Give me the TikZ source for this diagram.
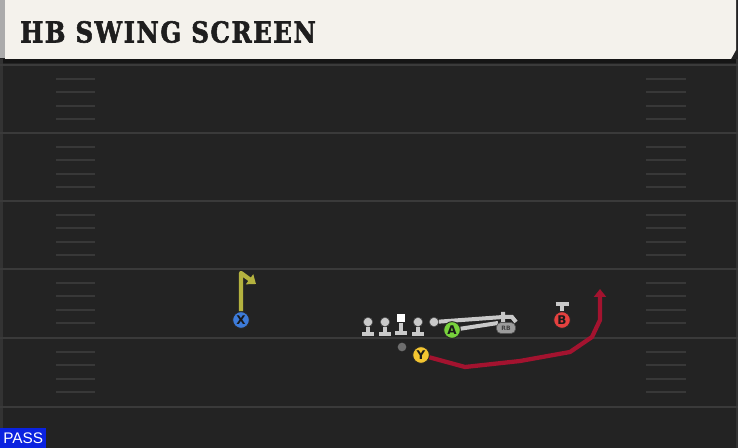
\documentclass[tikz,border=0pt]{standalone}
\usepackage{fontspec}
\setmainfont{DejaVu Serif}
\setsansfont{DejaVu Sans}
\newfontfamily\passfont{Liberation Sans}
\newfontfamily\titlefont{DejaVu Serif}[FakeBold=2, LetterSpace=6]
\usetikzlibrary{arrows.meta}

\definecolor{fieldbg}{HTML}{232323}
\definecolor{yardgray}{HTML}{3A3A3A}
\definecolor{hashgray}{HTML}{383838}
\definecolor{headerbg}{HTML}{F4F2EC}
\definecolor{headeredge}{HTML}{ABABAB}
\definecolor{titleink}{HTML}{1E1E1E}
\definecolor{passblue}{HTML}{0A22E0}
\definecolor{xblue}{HTML}{3D7BD9}
\definecolor{agreen}{HTML}{78D23C}
\definecolor{bred}{HTML}{E5413F}
\definecolor{yyellow}{HTML}{F3C531}
\definecolor{routeolive}{HTML}{B4B23F}
\definecolor{routered}{HTML}{A3132F}
\definecolor{blockgray}{HTML}{C9C9C9}
\definecolor{qbgray}{HTML}{6E6E6E}
\definecolor{rbgray}{HTML}{9C9C9C}

\begin{document}
\begin{tikzpicture}[
      x=0.75pt, y=-0.75pt,
      yardline/.style={draw=yardgray, line width=1.5pt},
      hashline/.style={draw=hashgray, line width=1.5pt},
      player/.style={circle, draw=black!85, line width=0.7pt, minimum size=12.5pt, inner sep=0pt,
                     font=\sffamily\bfseries\fontsize{9}{9}\selectfont, text=black!90},
      lineman/.style={circle, fill=blockgray, draw=black!70, line width=0.4pt, minimum size=7pt, inner sep=0pt},
      block/.style={draw=blockgray, line width=3pt},
      route/.style={line width=3.2pt, line join=round, -{Triangle[length=6pt,width=9pt]}},
      rbtag/.style={rectangle, rounded corners=3pt, fill=rbgray, draw=black!70, line width=0.4pt,
                    minimum width=14pt, minimum height=8pt, inner sep=0pt,
                    font=\sffamily\bfseries\fontsize{4.5}{5}\selectfont, text=black!75},
      passtag/.style={fill=passblue, text=white, font=\passfont\fontsize{11.5}{12}\selectfont,
                      minimum width=34.5pt, minimum height=15pt, inner sep=0pt}
    ]
    \useasboundingbox (0,0) rectangle (738,448);

    % Field
    \fill[fieldbg] (0,0) rectangle (738,448);
    \fill[black!40!fieldbg] (0,59) rectangle (738,63);
    \fill[yardgray!70!fieldbg] (0,59) rectangle (2.5,448);
    \fill[yardgray!70!fieldbg] (736,59) rectangle (738,448);
    \foreach \y in {65,133,201,269,338,407}
      \draw[yardline] (0,\y) -- (738,\y);
    \foreach \y in {65,133,201,269,338}
      \foreach \k in {1,...,4} {
        \draw[hashline] (56,{\y+13.6*\k}) -- (95,{\y+13.6*\k});
        \draw[hashline] (646,{\y+13.6*\k}) -- (686,{\y+13.6*\k});
      }

    % Header
    \fill[headerbg] (5,0) -- (736,0) -- (736,50) -- (731,59) -- (5,59) -- cycle;
    \fill[headeredge] (0,0) rectangle (5,58);
    \node[anchor=west, inner sep=0pt, text=titleink, font=\titlefont\bfseries\fontsize{21.6}{22}\selectfont]
      (title) at (20,32) {\scalebox{0.85}[1]{HB SWING SCREEN}};
    \node[passtag, anchor=south west] (pass) at (0,448) {PASS};

    % Offensive line
    \foreach \n/\x in {lt/368, lg/385, rg/418} {
      \node[lineman] (\n) at (\x,322) {};
      \draw[block] (\n.south) -- ++(0,7) ++(-6,0) -- ++(12,0);
    }
    \node[rectangle, fill=white, minimum size=6.5pt, inner sep=0pt] (center) at (401,318) {};
    \draw[block] (center.south) -- ++(0,10) ++(-6,0) -- ++(12,0);
    \node[circle, fill=qbgray, minimum size=6.5pt, inner sep=0pt] (qb) at (402,347) {};

    % Blocking to the RB side
    \node[lineman] (te) at (434,322) {};
    \node[rbtag] (rb) at (506,328) {RB};
    \coordinate (teEnd) at (503,317);
    \coordinate (aEnd) at (498,323);
    \draw[block] (te) -- (teEnd) ++(0,-5) -- ++(0,10);
    \draw[block] (teEnd) -- (512,317) -- (516,322);
    \node[player, fill=agreen] (A) at (452,330) {A};
    \draw[block] (A) -- (aEnd);
    \node[rbtag] at (rb) {RB};

    % X: short flag
    \node[player, fill=xblue] (X) at (241,320) {X};
    \coordinate (xTurn) at (241,273);
    \coordinate (xTip) at (256,284);
    \draw[route, routeolive] (X) -- (xTurn) -- (xTip);

    % B: block
    \node[player, fill=bred] (B) at (562,320) {B};
    \draw[block] (B.north) -- ++(0,-7) ++(-6.5,0) -- ++(13,0);

    % Y: swing screen
    \node[player, fill=yyellow] (Y) at (421,355) {Y};
    \coordinate (y1) at (465,367);
    \coordinate (y2) at (520,361);
    \coordinate (y3) at (570,352);
    \coordinate (y4) at (592,337);
    \coordinate (y5) at (600,320);
    \coordinate (yTip) at (600,289);
    \draw[route, routered] (Y) -- (y1) -- (y2) -- (y3) -- (y4) -- (y5) -- (yTip);
  \end{tikzpicture}
\end{document}
